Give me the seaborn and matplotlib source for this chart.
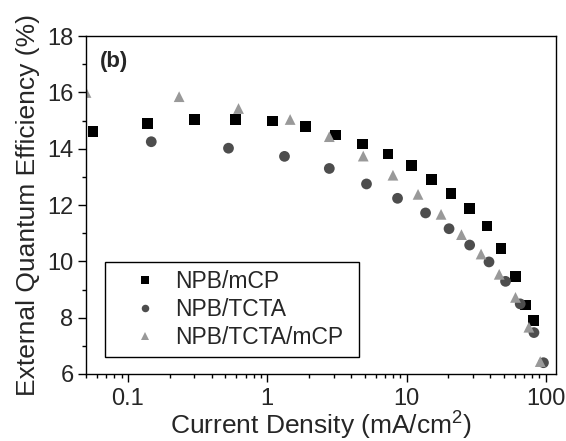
import numpy as np
import pandas as pd
import matplotlib
matplotlib.use("Agg")
import matplotlib.pyplot as plt
from matplotlib.ticker import FixedLocator, FixedFormatter, MultipleLocator
import seaborn as sns

# data (current density in mA/cm2, EQE in %)
mcp_j = [0.0561, 0.138, 0.301, 0.592, 1.09, 1.88, 3.11, 4.86, 7.35, 10.8,
         15.2, 20.9, 28.3, 37.8, 47.6, 60.3, 71.9, 81.6]
mcp_eqe = [14.60, 14.91, 15.05, 15.05, 14.99, 14.80, 14.49, 14.17, 13.81, 13.40,
           12.91, 12.42, 11.87, 11.26, 10.47, 9.46, 8.45, 7.89]

tcta_j = [0.147, 0.527, 1.33, 2.79, 5.16, 8.62, 13.7, 20.2, 28.4, 39.1,
          51.4, 65.5, 82.2, 96.2]
tcta_eqe = [14.25, 14.02, 13.73, 13.30, 12.75, 12.24, 11.72, 11.16, 10.58, 9.98,
            9.29, 8.49, 7.47, 6.40]

both_j = [0.05, 0.233, 0.622, 1.46, 2.79, 4.89, 7.99, 12.1, 17.7, 24.8,
          34.3, 46.3, 60.6, 75.6, 91.2]
both_eqe = [16.0, 15.85, 15.43, 15.04, 14.43, 13.74, 13.06, 12.38, 11.67, 10.95,
            10.26, 9.54, 8.72, 7.66, 6.44]

names = ["NPB/mCP", "NPB/TCTA", "NPB/TCTA/mCP"]

df = pd.concat([
    pd.DataFrame({"j": mcp_j, "eqe": mcp_eqe, "device": names[0]}),
    pd.DataFrame({"j": tcta_j, "eqe": tcta_eqe, "device": names[1]}),
    pd.DataFrame({"j": both_j, "eqe": both_eqe, "device": names[2]}),
])

sns.set_style("ticks")
plt.rcParams["font.family"] = ["Liberation Sans", "DejaVu Sans"]
plt.rcParams["mathtext.default"] = "regular"

fig = plt.figure(figsize=(5.66, 4.41), dpi=100)
ax = fig.add_axes([0.152, 0.152, 0.830, 0.766])

sns.scatterplot(data=df, x="j", y="eqe", hue="device", style="device",
                hue_order=names, style_order=names,
                palette=["#000000", "#4d4d4d", "#999999"],
                markers=["s", "o", "^"], s=60, linewidth=0,
                ax=ax, clip_on=True)

ax.set_xscale("log")
ax.set_xlim(0.05, 118)
ax.set_ylim(6, 18)

ax.xaxis.set_major_locator(FixedLocator([0.1, 1, 10, 100]))
ax.xaxis.set_major_formatter(FixedFormatter(["0.1", "1", "10", "100"]))
minors = [m * 10.0 ** d for d in range(-2, 3) for m in range(2, 10)]
ax.xaxis.set_minor_locator(FixedLocator(minors))
ax.yaxis.set_major_locator(MultipleLocator(2))
ax.yaxis.set_minor_locator(MultipleLocator(1))

ax.tick_params(which="major", length=6, width=1, labelsize=17, pad=3,
               direction="out", color="black")
ax.tick_params(axis="x", which="major", pad=4)
ax.tick_params(which="minor", length=3, width=1, direction="out", color="black")
for sp in ax.spines.values():
    sp.set_linewidth(1.0)
    sp.set_color("black")

ax.set_xlabel("Current Density (mA/cm$^2$)", fontsize=19, labelpad=0)
ax.set_ylabel("External Quantum Efficiency (%)", fontsize=19, labelpad=5)

ax.text(0.03, 0.926, "(b)", transform=ax.transAxes, fontsize=16,
        fontweight="bold", va="center", ha="left")

leg = ax.legend(loc="lower left", bbox_to_anchor=(0.041, 0.05, 0.539, 0.27),
                mode="expand", fontsize=16.5, frameon=True, fancybox=False,
                edgecolor="black", framealpha=1, borderpad=0.35,
                labelspacing=0.22, handlelength=2.8, handletextpad=-0.1,
                markerscale=0.7, borderaxespad=0)
leg.get_frame().set_linewidth(1.0)

fig.savefig("out.png", dpi=100)
